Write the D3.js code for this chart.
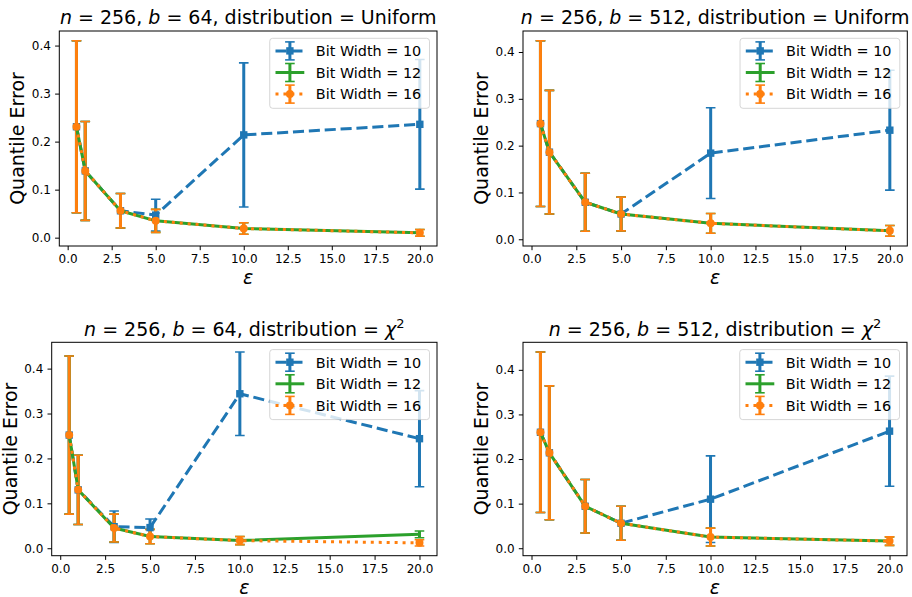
<!DOCTYPE html>
<html>
<head>
<meta charset="utf-8">
<script src="https://cdn.jsdelivr.net/npm/d3@7/dist/d3.min.js"></script>
<style>
  html, body { margin: 0; padding: 0; background: #fff; }
  svg { display: block; font-family: "DejaVu Sans", sans-serif; }
</style>
</head>
<body>
<svg id="chart" width="912" height="597"></svg>
<script>
// ---------------- DATA ----------------
const eps = [0.5, 1, 3, 5, 10, 20];
const xTickValues = [0, 2.5, 5, 7.5, 10, 12.5, 15, 17.5, 20];
const yTickValues = [0, 0.1, 0.2, 0.3, 0.4];
const seriesLabels = ["Bit Width = 10", "Bit Width = 12", "Bit Width = 16"];
const panelB = ["64", "512", "64", "512"];
const panelDist = ["Uniform", "Uniform", "chi2", "chi2"];

// n=256, b=64, Uniform
const uni64_bw10_mean = [0.231, 0.139, 0.056, 0.047, 0.214, 0.236];
const uni64_bw10_err  = [0.179, 0.103, 0.036, 0.033, 0.150, 0.135];
const uni64_bw12_mean = [0.231, 0.139, 0.056, 0.035, 0.019, 0.010];
const uni64_bw12_err  = [0.179, 0.103, 0.036, 0.024, 0.012, 0.007];
const uni64_bw16_mean = [0.231, 0.139, 0.056, 0.035, 0.019, 0.010];
const uni64_bw16_err  = [0.179, 0.103, 0.036, 0.024, 0.012, 0.007];

// n=256, b=512, Uniform
const uni512_bw10_mean = [0.247, 0.186, 0.079, 0.054, 0.184, 0.233];
const uni512_bw10_err  = [0.177, 0.132, 0.062, 0.036, 0.097, 0.128];
const uni512_bw12_mean = [0.247, 0.186, 0.079, 0.054, 0.034, 0.018];
const uni512_bw12_err  = [0.177, 0.132, 0.062, 0.036, 0.021, 0.0115];
const uni512_bw16_mean = [0.247, 0.186, 0.079, 0.054, 0.034, 0.018];
const uni512_bw16_err  = [0.177, 0.132, 0.062, 0.036, 0.021, 0.0115];

// n=256, b=64, chi2
const chi64_bw10_mean = [0.252, 0.130, 0.048, 0.046, 0.344, 0.244];
const chi64_bw10_err  = [0.176, 0.077, 0.035, 0.019, 0.093, 0.107];
const chi64_bw12_mean = [0.252, 0.130, 0.045, 0.026, 0.017, 0.031];
const chi64_bw12_err  = [0.176, 0.077, 0.031, 0.016, 0.009, 0.0075];
const chi64_bw16_mean = [0.252, 0.130, 0.045, 0.026, 0.017, 0.012];
const chi64_bw16_err  = [0.176, 0.077, 0.031, 0.016, 0.009, 0.007];

// n=256, b=512, chi2
const chi512_bw10_mean = [0.260, 0.214, 0.094, 0.056, 0.110, 0.2625];
const chi512_bw10_err  = [0.180, 0.150, 0.060, 0.038, 0.097, 0.1235];
const chi512_bw12_mean = [0.260, 0.214, 0.094, 0.056, 0.025, 0.016];
const chi512_bw12_err  = [0.180, 0.150, 0.060, 0.038, 0.020, 0.0095];
const chi512_bw16_mean = [0.260, 0.214, 0.094, 0.056, 0.025, 0.016];
const chi512_bw16_err  = [0.180, 0.150, 0.060, 0.038, 0.020, 0.0095];

// ---------------- STYLE / LAYOUT ----------------
const colors = ["#1f77b4", "#2ca02c", "#ff7f0e"];
const LW = 3;
const dashes = [`${3.7*LW},${1.6*LW}`, null, `${1*LW},${1.65*LW}`];
const markers = ["square", "none", "circle"];
const MS = 7.4;
const CAP = 4.8;

const rects = [
  {l: 59.3, r: 437,   t: 31,    b: 246},
  {l: 523,  r: 907.3, t: 31,    b: 246},
  {l: 51.7, r: 437,   t: 342.3, b: 555.7},
  {l: 523,  r: 907,   t: 342.3, b: 555.7}
];
const titleBase = [24.3, 24.3, 336, 336];
const xlabelBase = [283.5, 283.5, 593.5, 593.5];

const panelData = [
  [[uni64_bw10_mean, uni64_bw10_err], [uni64_bw12_mean, uni64_bw12_err], [uni64_bw16_mean, uni64_bw16_err]],
  [[uni512_bw10_mean, uni512_bw10_err], [uni512_bw12_mean, uni512_bw12_err], [uni512_bw16_mean, uni512_bw16_err]],
  [[chi64_bw10_mean, chi64_bw10_err], [chi64_bw12_mean, chi64_bw12_err], [chi64_bw16_mean, chi64_bw16_err]],
  [[chi512_bw10_mean, chi512_bw10_err], [chi512_bw12_mean, chi512_bw12_err], [chi512_bw16_mean, chi512_bw16_err]]
];

const svg = d3.select("#chart");

function drawMarker(g, type, cx, cy, color) {
  if (type === "square") {
    g.append("rect").attr("x", cx - MS/2).attr("y", cy - MS/2)
      .attr("width", MS).attr("height", MS).attr("fill", color);
  } else if (type === "circle") {
    g.append("circle").attr("cx", cx).attr("cy", cy).attr("r", MS/2 + 0.3).attr("fill", color);
  }
}

panelData.forEach((series, pi) => {
  const R = rects[pi];
  const g = svg.append("g");

  // x limits: matplotlib auto margins 5%
  const xmin = d3.min(eps), xmax = d3.max(eps);
  const xm = (xmax - xmin) * 0.05;
  const x = d3.scaleLinear().domain([xmin - xm, xmax + xm]).range([R.l, R.r]);

  let lo = Infinity, hi = -Infinity;
  series.forEach(([m, e]) => m.forEach((v, i) => { lo = Math.min(lo, v - e[i]); hi = Math.max(hi, v + e[i]); }));
  const ym = (hi - lo) * 0.05;
  const y = d3.scaleLinear().domain([lo - ym, hi + ym]).range([R.b, R.t]);

  const clipId = "clip" + pi;
  svg.append("clipPath").attr("id", clipId).append("rect")
    .attr("x", R.l).attr("y", R.t).attr("width", R.r - R.l).attr("height", R.b - R.t);

  const plot = g.append("g").attr("clip-path", `url(#${clipId})`);

  // error bars + caps (zorder 2)
  series.forEach(([m, e], si) => {
    const eg = plot.append("g");
    eps.forEach((xv, i) => {
      const px = x(xv), y1 = y(m[i] - e[i]), y2 = y(m[i] + e[i]);
      eg.append("line").attr("x1", px).attr("x2", px).attr("y1", y1).attr("y2", y2)
        .attr("stroke", colors[si]).attr("stroke-width", LW);
      [y1, y2].forEach(yy => eg.append("line").attr("x1", px - CAP).attr("x2", px + CAP)
        .attr("y1", yy).attr("y2", yy).attr("stroke", colors[si]).attr("stroke-width", 1.6));
    });
  });

  // data lines + markers (zorder 2.1)
  series.forEach(([m, e], si) => {
    const line = d3.line().x((d, i) => x(eps[i])).y(d => y(d));
    const p = plot.append("path").attr("d", line(m)).attr("fill", "none")
      .attr("stroke", colors[si]).attr("stroke-width", LW).attr("stroke-linejoin", "round");
    if (dashes[si]) p.attr("stroke-dasharray", dashes[si]);
    const mg = plot.append("g");
    m.forEach((v, i) => drawMarker(mg, markers[si], x(eps[i]), y(v), colors[si]));
  });

  // axes
  const xAxis = d3.axisBottom(x).tickValues(xTickValues).tickFormat(d3.format(".1f"))
    .tickSize(4.2).tickPadding(4.2);
  const xg = g.append("g").attr("transform", `translate(0,${R.b})`).call(xAxis);
  const yAxis = d3.axisLeft(y).tickValues(yTickValues).tickFormat(d3.format(".1f"))
    .tickSize(4.2).tickPadding(4.2);
  const yg = g.append("g").attr("transform", `translate(${R.l},0)`).call(yAxis);
  [xg, yg].forEach(ax => {
    ax.select(".domain").remove();
    ax.selectAll(".tick line").attr("stroke", "#000").attr("stroke-width", 1);
    ax.selectAll(".tick text").attr("fill", "#000").style("font-size", "12px")
      .style("font-family", "'DejaVu Sans', sans-serif");
  });

  // frame
  g.append("rect").attr("x", R.l).attr("y", R.t).attr("width", R.r - R.l).attr("height", R.b - R.t)
    .attr("fill", "none").attr("stroke", "#000").attr("stroke-width", 1);

  // title
  const cx = (R.l + R.r) / 2;
  const t = g.append("text").attr("x", cx).attr("y", titleBase[pi]).attr("text-anchor", "middle")
    .style("font-size", "19px").attr("fill", "#000");
  t.append("tspan").attr("font-style", "italic").text("n");
  t.append("tspan").text(" = 256, ");
  t.append("tspan").attr("font-style", "italic").text("b");
  t.append("tspan").text(" = " + panelB[pi] + ", distribution = " + (panelDist[pi] === "Uniform" ? "Uniform" : ""));
  if (panelDist[pi] !== "Uniform") {
    t.append("tspan").attr("font-style", "italic").text("χ");
    t.append("tspan").attr("dy", -8).style("font-size", "13px").text("2");
  }

  // x label
  g.append("text").attr("x", cx).attr("y", xlabelBase[pi]).attr("text-anchor", "middle")
    .style("font-size", "19px").attr("font-style", "italic").attr("fill", "#000").text("ε");

  // y label
  const ylx = R.l - 35, yly = (R.t + R.b) / 2;
  g.append("text").attr("transform", `translate(${ylx},${yly}) rotate(-90)`)
    .attr("text-anchor", "middle").style("font-size", "19px").attr("fill", "#000").text("Quantile Error");

  // legend
  const FS = 14.4;
  const lg = g.append("g");
  const frame = lg.append("rect");
  const pad = 0.4 * FS, handleLen = 2 * FS, textPad = 0.8 * FS, rowH = 1.5 * FS;
  const texts = [];
  let maxW = 0;
  seriesLabels.forEach((lab, si) => {
    const tt = lg.append("text").style("font-size", FS + "px").attr("fill", "#000").text(lab);
    texts.push(tt);
    maxW = Math.max(maxW, tt.node().getComputedTextLength());
  });
  const boxW = pad + handleLen + textPad + maxW + pad + 2.5;
  const boxH = 70;
  const bx = R.r - 7.5 - boxW, by = R.t + 7.3;
  frame.attr("x", bx).attr("y", by).attr("width", boxW).attr("height", boxH)
    .attr("rx", 2.9).attr("ry", 2.9).attr("fill", "#fff").attr("fill-opacity", 0.8)
    .attr("stroke", "#cccccc").attr("stroke-opacity", 0.8).attr("stroke-width", 1);
  seriesLabels.forEach((lab, si) => {
    const rowY = by + 12.6 + si * rowH;
    const hx1 = bx + pad, hx2 = hx1 + handleLen, hcx = (hx1 + hx2) / 2;
    // error bar in handle
    lg.append("line").attr("x1", hcx).attr("x2", hcx).attr("y1", rowY - 9).attr("y2", rowY + 9)
      .attr("stroke", colors[si]).attr("stroke-width", LW);
    [rowY - 9, rowY + 9].forEach(yy => lg.append("line").attr("x1", hcx - CAP).attr("x2", hcx + CAP)
      .attr("y1", yy).attr("y2", yy).attr("stroke", colors[si]).attr("stroke-width", 1.6));
    const hl = lg.append("line").attr("x1", hx1).attr("x2", hx2).attr("y1", rowY).attr("y2", rowY)
      .attr("stroke", colors[si]).attr("stroke-width", LW);
    if (dashes[si]) hl.attr("stroke-dasharray", dashes[si]);
    drawMarker(lg, markers[si], hcx, rowY, colors[si]);
    texts[si].attr("x", hx2 + textPad).attr("y", rowY + 5.3);
  });
});
</script>
</body>
</html>
